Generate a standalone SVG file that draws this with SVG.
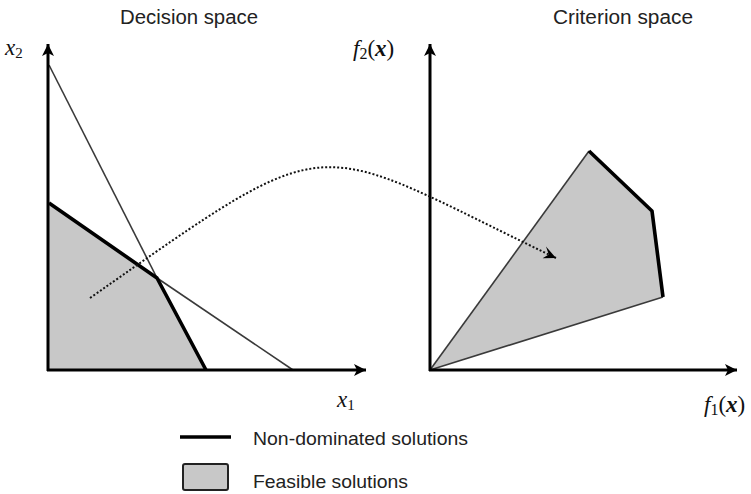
<svg xmlns="http://www.w3.org/2000/svg" width="751" height="494" viewBox="0 0 751 494">
<style>
.title{font-family:"Liberation Sans",Arial,sans-serif;font-size:20px;fill:#222}
.leg{font-family:"Liberation Sans",Arial,sans-serif;font-size:19px;fill:#222}
.math{font-family:"Liberation Serif","Times New Roman",serif;font-size:23px;fill:#111}
.axis{stroke:#000;stroke-width:3;fill:none}
.thin{stroke:#3a3a3a;stroke-width:1.6;fill:none}
.thick{stroke:#000;stroke-width:3.6;fill:none;stroke-linejoin:round}
.feas{fill:#c8c8c8;stroke:none}
.dot{stroke:#111;stroke-width:2;fill:none;stroke-dasharray:2 2}
</style>
<defs>
<marker id="ah" markerWidth="14" markerHeight="12" refX="12" refY="6" orient="auto" markerUnits="userSpaceOnUse">
<path d="M0,0 L12,6 L0,12 L3,6 Z" fill="#000"/>
</marker>
<marker id="dh" markerWidth="18" markerHeight="14" refX="14" refY="7" orient="auto" markerUnits="userSpaceOnUse">
<path d="M0,1 L14,7 L2,13 L6,7 Z" fill="#000"/>
</marker>
</defs>

<g id="titles">
<text class="title" x="189" y="24" text-anchor="middle" textLength="138" lengthAdjust="spacingAndGlyphs">Decision space</text>
<text class="title" x="623" y="24" text-anchor="middle" textLength="140" lengthAdjust="spacingAndGlyphs">Criterion space</text>
</g>

<g id="decision-space">
<polygon class="feas" points="49,203 157,278 206,370 49,370"/>
<line class="thin" x1="49" y1="65" x2="157" y2="278"/>
<line class="thin" x1="157" y1="278" x2="293" y2="370"/>
<polyline class="thick" points="49,203 157,278 206,370"/>
<line class="axis" x1="48" y1="371" x2="48" y2="44" marker-end="url(#ah)"/>
<line class="axis" x1="47" y1="370" x2="366" y2="370" marker-end="url(#ah)"/>
<text class="math" x="5" y="55"><tspan font-style="italic">x</tspan><tspan font-size="15" dy="3">2</tspan></text>
<text class="math" x="337" y="407"><tspan font-style="italic">x</tspan><tspan font-size="15" dy="3">1</tspan></text>
</g>

<g id="criterion-space">
<polygon class="feas" points="430,370 589,151 652,211 663,297"/>
<line class="thin" x1="430" y1="370" x2="589" y2="151"/>
<line class="thin" x1="430" y1="370" x2="663" y2="297"/>
<polyline class="thick" points="589,151 652,211 663,297"/>
<line class="axis" x1="430" y1="371" x2="430" y2="44" marker-end="url(#ah)"/>
<line class="axis" x1="429" y1="370" x2="737" y2="370" marker-end="url(#ah)"/>
<text class="math" x="353" y="56" font-size="25"><tspan font-style="italic">f</tspan><tspan font-size="16" dy="3">2</tspan><tspan dy="-3">(</tspan><tspan font-style="italic" font-weight="bold">x</tspan>)</text>
<text class="math" x="704" y="412" font-size="25"><tspan font-style="italic">f</tspan><tspan font-size="16" dy="3">1</tspan><tspan dy="-3">(</tspan><tspan font-style="italic" font-weight="bold">x</tspan>)</text>
</g>

<g id="connectors">
<path class="dot" d="M90,298 C340,123 306,138 556,258" marker-end="url(#dh)"/>
</g>

<g id="legend">
<line x1="180" y1="437" x2="231" y2="437" stroke="#000" stroke-width="3.6"/>
<text class="leg" x="253" y="445" textLength="215" lengthAdjust="spacingAndGlyphs">Non-dominated solutions</text>
<rect x="183" y="464" width="45" height="26" rx="2" fill="#c8c8c8" stroke="#222" stroke-width="2"/>
<text class="leg" x="253" y="488" textLength="155" lengthAdjust="spacingAndGlyphs">Feasible solutions</text>
</g>
</svg>
